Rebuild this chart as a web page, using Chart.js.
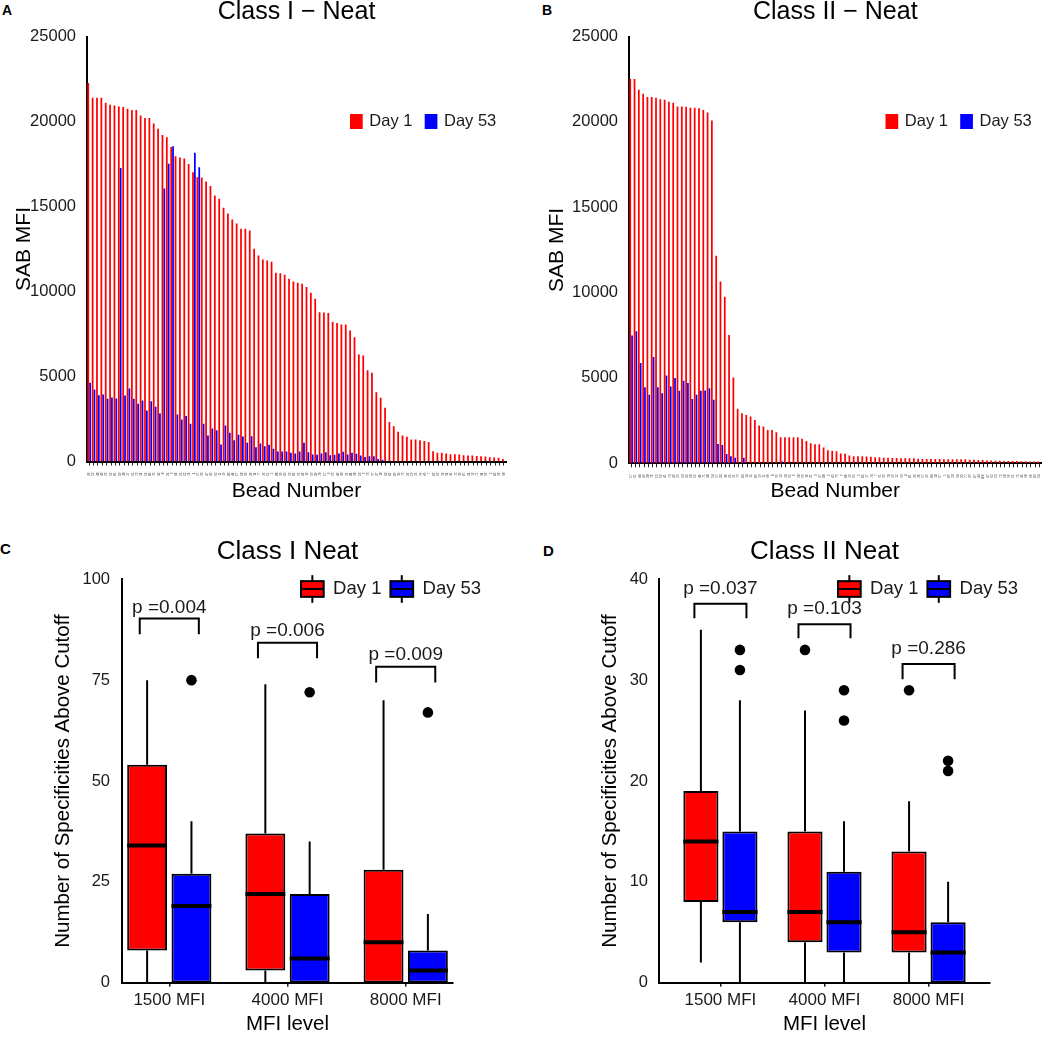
<!DOCTYPE html>
<html><head><meta charset="utf-8">
<script src="https://cdn.jsdelivr.net/npm/chart.js@4.4.0/dist/chart.umd.min.js"></script>
<style>
html,body{margin:0;padding:0;background:#fff;width:1050px;height:1044px;overflow:hidden;position:relative;font-family:"Liberation Sans",Arial,sans-serif;}
canvas{position:absolute;}
.tag{position:absolute;font-weight:bold;color:#000;font-family:"Liberation Sans",Arial,sans-serif;}
</style></head><body>
<div class="tag" style="left:2px;top:3px;font-size:14px;line-height:14px">A</div>
<div class="tag" style="left:542px;top:3px;font-size:14px;line-height:14px">B</div>
<div class="tag" style="left:0px;top:541px;font-size:15px;line-height:15px">C</div>
<div class="tag" style="left:543px;top:543px;font-size:15px;line-height:15px">D</div>
<canvas id="cA" width="525" height="509" style="left:0px;top:-4px"></canvas>
<canvas id="cB" width="524" height="509" style="left:526px;top:-4px"></canvas>
<canvas id="cC" width="525" height="514" style="left:0px;top:530px"></canvas>
<canvas id="cD" width="490" height="514" style="left:560px;top:530px"></canvas>
<script>
// ---------------- DATA ----------------
const beadLabelsI = ["36","52","48","43","29","65","81","50","38","17","61","72","24","56","80","70","42","8","31","9","64","21","55","74","4","27","93","47","35","62","11","19","83","44","67","58","90","33","14","77","26","51","5","88","39","60","22","86","95","46","13","69","30","78","57","3","92","40","68","15","84","28","53","6","73","97","37","18","63","45","89","10","76","32","59","25","99","49","7","82","66","16","94","41","75","20","87","54","12","71","34","96","2","85","23","98"];
const day1ClassI = [22270,21400,21400,21400,21100,20980,20940,20880,20860,20750,20670,20670,20350,20200,20200,19880,19570,19200,19080,18500,17960,17880,17820,17500,17020,16720,16700,16470,16200,15650,15450,14920,14590,14240,14000,13690,13690,13590,12510,12120,11880,11820,11750,11100,11080,10980,10750,10590,10510,10450,10270,9920,9570,8780,8760,8740,8200,8140,8060,8060,7700,7310,6290,6240,5370,5220,4080,3750,3160,2330,2080,1750,1530,1450,1290,1290,1250,1200,1140,610,510,510,470,430,430,410,370,350,350,330,310,290,250,240,220,150];
const day53ClassI = [4630,4240,3900,3940,3690,3760,3700,17270,3880,4290,3690,3390,3590,3000,3550,3220,2820,16060,17510,18550,2760,2470,2670,2220,18160,17310,2220,1530,1940,1840,1000,2120,1690,1250,1570,1470,1100,1490,840,1060,900,980,750,590,590,590,510,470,590,1100,550,410,390,470,550,370,390,470,570,410,510,450,350,270,310,310,150,100,0,0,0,0,0,0,0,0,0,0,0,0,0,0,0,0,0,0,0,0,0,0,0,0,0,0,0,0];

const beadLabelsII = ["57","61","44","49","38","70","52","66","41","73","46","59","63","35","68","55","40","71","48","54","27","33","30","25","21","79","83","14","16","86","19","11","90","8","92","13","24","95","6","28","99","10","31","3","37","88","5","42","76","9","80","12","65","2","85","17","74","7","91","22","78","29","15","93","4","81","36","20","97","26","84","18","67","1","89","23","94","32","77","39","87","43","100","47","62","53","72","58","96","51","75","45","98","60","82","64"];
const day1ClassII = [22510,22510,21880,21650,21450,21450,21410,21330,21290,21180,21120,20900,20900,20880,20820,20820,20800,20700,20550,20080,12160,10650,9760,7510,5030,3190,2930,2830,2740,2540,2210,2150,1950,1950,1820,1520,1520,1520,1520,1520,1440,1310,1170,1110,1110,930,760,740,700,580,560,460,420,420,420,400,380,360,360,320,320,310,310,290,290,290,290,270,250,250,250,250,250,230,230,230,230,230,230,210,210,190,190,170,170,150,150,130,130,130,130,120,120,110,110,100];
const day53ClassII = [7480,7740,5870,4460,4010,6230,4460,4110,5150,4500,4990,4250,4830,4700,3760,4010,4250,4270,4400,3720,1130,1070,540,420,320,0,320,0,0,0,0,0,0,0,0,100,0,0,0,0,0,0,0,0,0,0,0,0,0,0,0,0,0,0,0,0,0,0,0,0,0,0,0,0,0,0,0,0,0,0,0,0,0,0,0,0,0,0,0,0,0,0,0,0,0,0,0,0,0,0,0,0,0,0,0,0];
const yTicksSAB = [0,5000,10000,15000,20000,25000];

const mfiLevels = ["1500 MFI","4000 MFI","8000 MFI"];
const groupPos = [1,2,3];

// Class I Neat (C)
const cDay1Min = [0,0,0],  cDay1Q1 = [8,3,0],  cDay1Med = [34,22,10], cDay1Q3 = [54,37,28], cDay1Max = [75,74,70];
const cDay53Min = [0,0,0], cDay53Q1 = [0,0,0], cDay53Med = [19,6,3],  cDay53Q3 = [27,22,8],  cDay53Max = [40,35,17];
const cDay1Out = [[],[],[]];
const cDay53Out = [[75],[72],[67]];
const cPText = ["p =0.004","p =0.006","p =0.009"];
const cBracketTop = [90.3,84.3,78.3];
const cBracketEnd = [86.4,80.4,74.4];
const cPTextY = [93,87.2,81.2];
const yTicksC = [0,25,50,75,100];

// Class II Neat (D)
const dDay1Min = [2,0,0],  dDay1Q1 = [8,4,3],  dDay1Med = [14,7,5], dDay1Q3 = [19,15,13], dDay1Max = [35,27,18];
const dDay53Min = [0,0,0], dDay53Q1 = [6,3,0], dDay53Med = [7,6,3], dDay53Q3 = [15,11,6], dDay53Max = [28,16,10];
const dDay1Out = [[],[33],[29]];
const dDay53Out = [[33,31],[29,26],[22,21]];
const dPText = ["p =0.037","p =0.103","p =0.286"];
const dBracketTop = [37.57,35.55,31.6];
const dBracketEnd = [36.15,34.16,30.1];
const dPTextY = [39.05,37.07,33.07];
const yTicksD = [0,10,20,30,40];

// ---------------- STYLE ----------------
const FONT = '"Liberation Sans", Arial, Helvetica, sans-serif';
const RED = '#FF0000', BLUE = '#0000FF';
const TXT = '#1a1a1a';
Chart.defaults.font.family = FONT;
Chart.defaults.color = TXT;
const CAT_PCT = 0.75, BAR_PCT = 0.9;
const DODGE = CAT_PCT / 4;            // centre offset of each box
const HALF_BOX = CAT_PCT / 2 * BAR_PCT / 2;
const BRACKET_HALF = 0.25;

const insideLegend = {
  id: 'insideLegend',
  afterDraw(chart, args, o) {
    const ctx = chart.ctx, ca = chart.chartArea;
    const items = chart.data.datasets.filter(d => d.legendEntry);
    ctx.save();
    ctx.font = o.font;
    ctx.textBaseline = 'middle';
    let x = ca.right + o.dx;
    const yc = ca.top + o.dy;
    items.forEach(d => {
      if (o.glyph === 'square') {
        ctx.fillStyle = d.backgroundColor;
        ctx.fillRect(x, yc - o.h / 2, o.w, o.h);
      } else {
        ctx.strokeStyle = '#000'; ctx.lineWidth = 2;
        const cx = x + o.w / 2;
        ctx.beginPath(); ctx.moveTo(cx, yc - o.h / 2 - o.whisk); ctx.lineTo(cx, yc + o.h / 2 + o.whisk); ctx.stroke();
        ctx.fillStyle = d.backgroundColor;
        ctx.fillRect(x, yc - o.h / 2, o.w, o.h);
        ctx.strokeRect(x, yc - o.h / 2, o.w, o.h);
        ctx.beginPath(); ctx.moveTo(x, yc); ctx.lineTo(x + o.w, yc); ctx.stroke();
      }
      x += o.w + o.gapText;
      ctx.fillStyle = TXT;
      ctx.fillText(d.label, x, yc);
      x += ctx.measureText(d.label).width + o.gapItem;
    });
    ctx.restore();
  }
};

const pLabels = {
  id: 'pLabels',
  afterDatasetsDraw(chart, args, o) {
    if (!o.texts) return;
    const {ctx, scales: {x, y}} = chart;
    ctx.save();
    ctx.font = o.font; ctx.fillStyle = TXT; ctx.textAlign = 'center'; ctx.textBaseline = 'middle';
    o.texts.forEach((t, i) => ctx.fillText(t, x.getPixelForValue(groupPos[i]), y.getPixelForValue(o.ys[i])));
    ctx.restore();
  }
};

function mfiChart(id, title, labels, d1, d53, yW, padR, xH, yTitlePad) {
  return new Chart(document.getElementById(id), {
    type: 'bar',
    data: { labels: labels, datasets: [
      {label: 'Day 1', data: d1, backgroundColor: RED, categoryPercentage: 0.85, barPercentage: 0.95, legendEntry: true},
      {label: 'Day 53', data: d53, backgroundColor: BLUE, categoryPercentage: 0.85, barPercentage: 0.95, legendEntry: true}
    ]},
    options: {
      responsive: false, animation: false, events: [],
      layout: {padding: {left: 0, right: padR, top: 0, bottom: 0}},
      plugins: {
        legend: {display: false}, tooltip: {enabled: false},
        title: {display: true, fullSize: false, text: title, color: '#000', font: {size: 25, weight: 'normal'}, padding: {top: 0.8, bottom: 9.7}},
        insideLegend: {glyph: 'square', dx: -156, dy: 85, w: 12.7, h: 15, gapText: 6.6, gapItem: 12.3, font: '16.5px ' + FONT}
      },
      scales: {
        x: {
          z: 1, offset: true,
          grid: {display: true, offset: false, drawOnChartArea: false, drawTicks: true, tickLength: 4, color: '#222', lineWidth: 1},
          border: {display: true, color: '#000', width: 2},
          ticks: {autoSkip: false, minRotation: 90, maxRotation: 90, font: {size: 3}, padding: 7, color: '#333'},
          title: {display: true, text: 'Bead Number', color: '#000', font: {size: 21}, padding: {top: 0, bottom: 0.9}},
          afterFit: s => { s.height = xH; }
        },
        y: {
          min: 0, max: 25000,
          afterBuildTicks: s => { s.ticks = yTicksSAB.map(v => ({value: v})); },
          grid: {display: false, drawTicks: false},
          border: {display: true, color: '#000', width: 2},
          ticks: {font: {size: 16.5}, padding: 11, color: TXT, callback: v => String(v)},
          title: {display: true, text: 'SAB MFI', color: '#000', font: {size: 21}, padding: {top: yTitlePad, bottom: 0}},
          afterFit: s => { s.width = yW; }
        }
      }
    },
    plugins: [insideLegend]
  });
}

function boxChart(id, o) {
  const series = [
    {label: 'Day 1', color: RED, min: o.d1[0], q1: o.d1[1], med: o.d1[2], q3: o.d1[3], max: o.d1[4], out: o.out1, off: -DODGE},
    {label: 'Day 53', color: BLUE, min: o.d53[0], q1: o.d53[1], med: o.d53[2], q3: o.d53[3], max: o.d53[4], out: o.out53, off: DODGE}
  ];
  const datasets = [];
  series.forEach(s => {
    datasets.push({type: 'bar', label: s.label, legendEntry: true, backgroundColor: s.color, borderColor: '#000',
      borderWidth: 2, borderSkipped: false, categoryPercentage: CAT_PCT, barPercentage: BAR_PCT, order: 3,
      data: groupPos.map((g, i) => ({x: g, y: [s.q1[i], s.q3[i]]}))});
  });
  series.forEach(s => {
    const wh = [], md = [], od = [];
    groupPos.forEach((g, i) => {
      const x = g + s.off;
      wh.push({x: x, y: s.min[i]}, {x: x, y: s.q1[i]}, {x: x, y: null}, {x: x, y: s.q3[i]}, {x: x, y: s.max[i]}, {x: x, y: null});
      md.push({x: x - HALF_BOX, y: s.med[i]}, {x: x + HALF_BOX, y: s.med[i]}, {x: x, y: null});
      s.out[i].forEach(v => od.push({x: x, y: v}));
    });
    datasets.push({type: 'line', data: wh, borderColor: '#000', borderWidth: 2, pointRadius: 0, spanGaps: false, fill: false, order: 4});
    datasets.push({type: 'line', data: md, borderColor: '#000', borderWidth: 4, borderCapStyle: 'butt', pointRadius: 0, spanGaps: false, fill: false, order: 1});
    datasets.push({type: 'scatter', data: od, backgroundColor: '#000', borderColor: '#000', borderWidth: 0, pointRadius: 5.3, order: 0});
  });
  const br = [];
  groupPos.forEach((g, i) => {
    br.push({x: g - BRACKET_HALF, y: o.bEnd[i]}, {x: g - BRACKET_HALF, y: o.bTop[i]}, {x: g + BRACKET_HALF, y: o.bTop[i]}, {x: g + BRACKET_HALF, y: o.bEnd[i]}, {x: g, y: null});
  });
  datasets.push({type: 'line', data: br, borderColor: '#000', borderWidth: 2, borderJoinStyle: 'miter', pointRadius: 0, spanGaps: false, fill: false, order: 2});

  return new Chart(document.getElementById(id), {
    type: 'bar',
    data: {datasets: datasets},
    options: {
      responsive: false, animation: false, events: [],
      layout: {padding: {left: 0, right: o.padR, top: 0, bottom: 0}},
      plugins: {
        legend: {display: false}, tooltip: {enabled: false},
        title: {display: true, fullSize: false, text: o.title, color: '#000', font: {size: 26, weight: 'normal'}, padding: {top: 6.4, bottom: 11.7}},
        insideLegend: {glyph: 'box', dx: -152, dy: 9.7, w: 22.7, h: 15.7, whisk: 6, gapText: 9.4, gapItem: 9, font: '18.5px ' + FONT},
        pLabels: {texts: o.pText, ys: o.pY, font: '19px ' + FONT}
      },
      scales: {
        x: {
          type: 'linear', min: o.xMin, max: o.xMax, offset: false,
          afterBuildTicks: s => { s.ticks = groupPos.map(v => ({value: v})); },
          grid: {display: true, offset: false, drawOnChartArea: false, drawTicks: true, tickLength: 4, color: '#222', lineWidth: 1.5},
          border: {display: true, color: '#000', width: 2},
          ticks: {font: {size: 17}, padding: 3, color: TXT, maxRotation: 0, callback: (v, i) => mfiLevels[i]},
          title: {display: true, text: 'MFI level', color: '#000', font: {size: 20.5}, padding: {top: 0, bottom: 7.7}},
          afterFit: s => { s.height = 61.3; }
        },
        y: {
          min: 0, max: o.yMax,
          afterBuildTicks: s => { s.ticks = o.yTicks.map(v => ({value: v})); },
          grid: {display: false, drawTicks: false},
          border: {display: true, color: '#000', width: 2},
          ticks: {font: {size: 16.5}, padding: o.yPad, color: TXT, callback: v => String(v)},
          title: {display: true, text: 'Number of Specificities Above Cutoff', color: '#000', font: {size: 20.5}, padding: {top: o.yTitlePad, bottom: 0}},
          afterFit: s => { s.width = o.yW; }
        }
      }
    },
    plugins: [insideLegend, pLabels]
  });
}

mfiChart('cA', 'Class I \u2212 Neat', beadLabelsI, day1ClassI, day53ClassI, 87, 19, 43.5, 11.4);
mfiChart('cB', 'Class II \u2212 Neat', beadLabelsII, day1ClassII, day53ClassII, 103, 3, 41.7, 18.4);

boxChart('cC', {
  title: 'Class I Neat',
  d1: [cDay1Min, cDay1Q1, cDay1Med, cDay1Q3, cDay1Max],
  d53: [cDay53Min, cDay53Q1, cDay53Med, cDay53Q3, cDay53Max],
  out1: cDay1Out, out53: cDay53Out,
  pText: cPText, pY: cPTextY, bTop: cBracketTop, bEnd: cBracketEnd,
  yMax: 100, yTicks: yTicksC, xMin: 0.6, xMax: 3.4,
  yW: 122, padR: 72, yPad: 12, yTitlePad: 51
});
boxChart('cD', {
  title: 'Class II Neat',
  d1: [dDay1Min, dDay1Q1, dDay1Med, dDay1Q3, dDay1Max],
  d53: [dDay53Min, dDay53Q1, dDay53Med, dDay53Q3, dDay53Max],
  out1: dDay1Out, out53: dDay53Out,
  pText: dPText, pY: dPTextY, bTop: dBracketTop, bEnd: dBracketEnd,
  yMax: 40, yTicks: yTicksD, xMin: 0.41, xMax: 3.59,
  yW: 99, padR: 60, yPad: 11, yTitlePad: 37.7
});
</script>
</body></html>
